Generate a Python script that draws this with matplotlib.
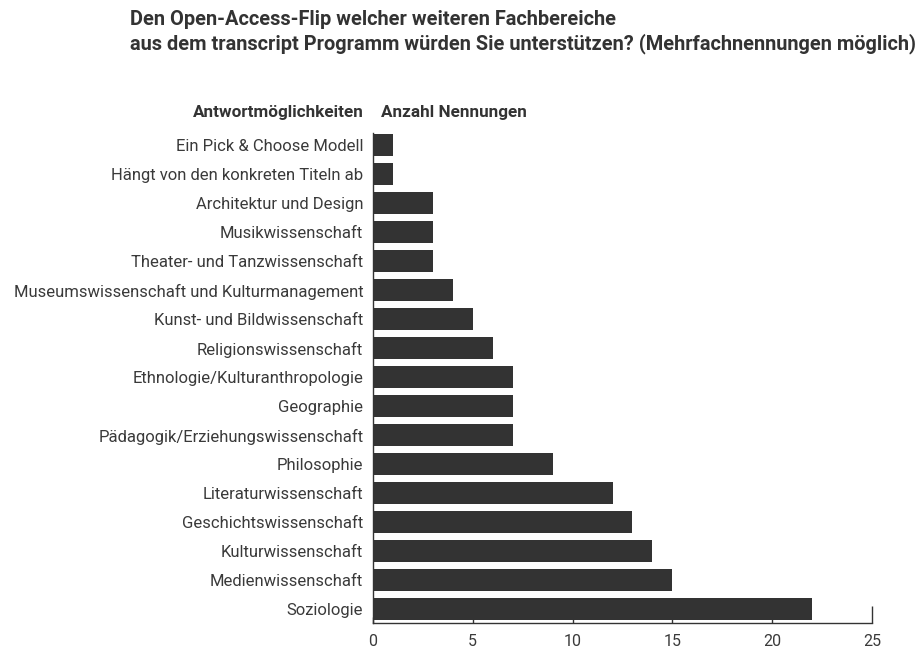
import matplotlib.pyplot as plt

categories = [
    "Ein Pick & Choose Modell",
    "Hängt von den konkreten Titeln ab",
    "Architektur und Design",
    "Musikwissenschaft",
    "Theater- und Tanzwissenschaft",
    "Museumswissenschaft und Kulturmanagement",
    "Kunst- und Bildwissenschaft",
    "Religionswissenschaft",
    "Ethnologie/Kulturanthropologie",
    "Geographie",
    "Pädagogik/Erziehungswissenschaft",
    "Philosophie",
    "Literaturwissenschaft",
    "Geschichtswissenschaft",
    "Kulturwissenschaft",
    "Medienwissenschaft",
    "Soziologie",
]
counts = [1, 1, 3, 3, 3, 4, 5, 6, 7, 7, 7, 9, 12, 13, 14, 15, 22]
x_ticks = [0, 5, 10, 15, 20, 25]

title = ("Den Open-Access-Flip welcher weiteren Fachbereiche\n"
         "aus dem transcript Programm würden Sie unterstützen? (Mehrfachnennungen möglich)")

dark = "#333333"
plt.rcParams['font.family'] = ['Roboto', 'DejaVu Sans']

fig = plt.figure(figsize=(9.22, 6.52), dpi=100)
ax = fig.add_axes([373 / 922, 1 - 623 / 652, (872 - 373) / 922, (623 - 133) / 652])

pos = list(range(len(categories)))
ax.barh(pos, counts, height=0.76, color=dark)
ax.set_ylim(len(categories) - 0.52, -0.42)
ax.set_xlim(0, 25)

ax.set_yticks(pos)
ax.set_yticklabels(categories, fontsize=12, color="#3a3a3a")
ax.tick_params(axis='y', length=0, pad=7)
ax.set_xticks(x_ticks)
ax.set_xticklabels([str(t) for t in x_ticks], fontsize=11.5, color="#3a3a3a")
ax.tick_params(axis='x', direction='in', length=4, width=1, color=dark, pad=8)
ax.xaxis.get_major_ticks()[-1].tick1line.set_markersize(12)

for s in ['top', 'right']:
    ax.spines[s].set_visible(False)
for s in ['left', 'bottom']:
    ax.spines[s].set_color(dark)
    ax.spines[s].set_linewidth(1)

fig.text(130 / 922, 1 - 10 / 652, title, fontsize=14.4, fontweight='bold', color=dark,
         va='top', ha='left', linespacing=1.25)
fig.text(364 / 922, 1 - 113 / 652, "Antwortmöglichkeiten", fontsize=12.3, fontweight='bold',
         color=dark, ha='right', va='center')
fig.text(381 / 922, 1 - 113 / 652, "Anzahl Nennungen", fontsize=12.3, fontweight='bold',
         color=dark, ha='left', va='center')

fig.savefig("out.png", dpi=100)
